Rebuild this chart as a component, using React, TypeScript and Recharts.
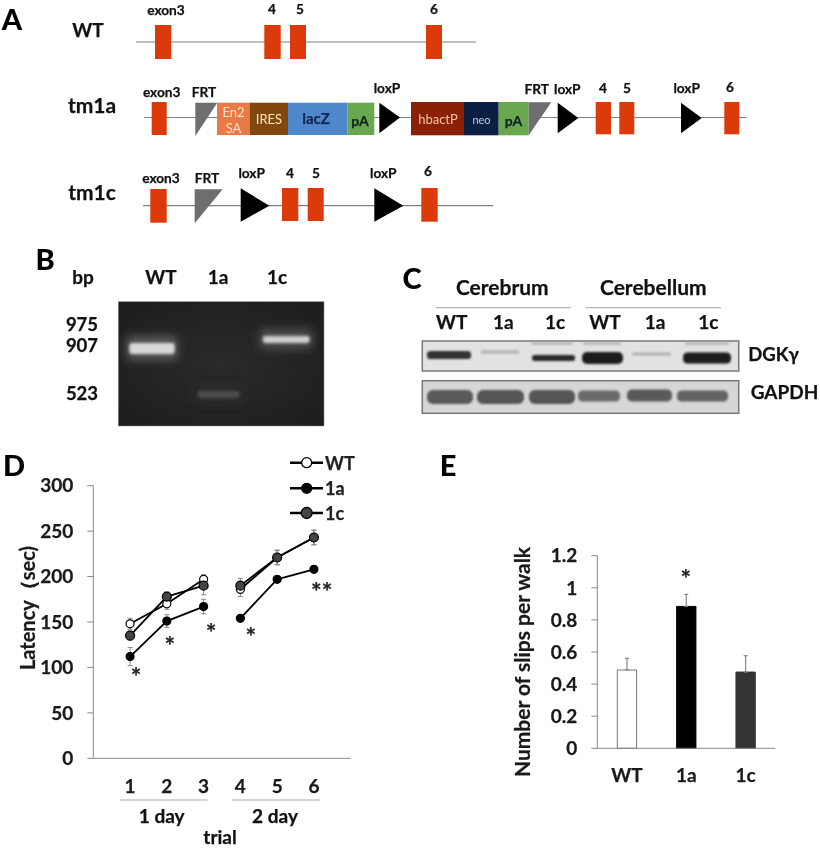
import React from "react";
import { LineChart, Line, BarChart, Bar, Cell, XAxis, YAxis, ErrorBar, Legend } from "recharts";

const FONT = "Lato, sans-serif";

// Panel D
const trialCategories = [" ", "1", "2", "3", "4", "5", "6", "  "];
const latencyTicks = [0, 50, 100, 150, 200, 250, 300];
const wtLatency = [148, 170, 197, 186, 221, 243];
const ko1aLatency = [112, 151, 167, 154, 197, 208];
const ko1cLatency = [135, 178, 190, 190, 221, 243];
const wtError = [6, 6, 5, 8, 8, 8];
const ko1aError = [10, 7, 8, 2, 2, 2];
const ko1cError = [5, 5, 10, 8, 8, 8];
const legendOrder = ["WT", "1a", "1c"];

// Panel E
const slipCategories = ["WT", "1a", "1c"];
const slipValues = [0.488, 0.884, 0.475];
const slipErrors = [0.073, 0.075, 0.102];
const slipTicks = [0, 0.2, 0.4, 0.6, 0.8, 1, 1.2];
const slipFill = ["#ffffff", "#000000", "#333333"];
const slipStroke = ["#777777", "#000000", "#333333"];

const dayOf = (i: number) => (i < 3 ? 1 : 2);
const cell = (arr: number[], i: number, day: number) => {
  const idx = i - 1;
  if (idx < 0 || idx >= arr.length || dayOf(idx) !== day) return null;
  return arr[idx];
};
const latencyTable = trialCategories.map((trial, i) => ({
  trial,
  wt1: cell(wtLatency, i, 1), wt2: cell(wtLatency, i, 2),
  wtE1: cell(wtError, i, 1), wtE2: cell(wtError, i, 2),
  a1: cell(ko1aLatency, i, 1), a2: cell(ko1aLatency, i, 2),
  aE1: cell(ko1aError, i, 1), aE2: cell(ko1aError, i, 2),
  c1: cell(ko1cLatency, i, 1), c2: cell(ko1cLatency, i, 2),
  cE1: cell(ko1cError, i, 1), cE2: cell(ko1cError, i, 2),
}));
const slipTable = slipCategories.map((name, i) => ({
  name, value: slipValues[i], err: [0, slipErrors[i]],
}));

const seriesStyle: Record<string, { fill: string; r: number }> = {
  WT: { fill: "#ffffff", r: 4 },
  "1a": { fill: "#000000", r: 4 },
  "1c": { fill: "#444444", r: 4.5 },
};

const T = ({ x, y, s = 13.7, c = "#111", a = "middle", w = 700, children }: any) => (
  <text x={x} y={y} fontSize={s} fill={c} textAnchor={a} dominantBaseline="central" fontFamily={FONT} fontWeight={w} stroke={w === 700 ? c : "none"} strokeWidth={w === 700 ? 0.25 : 0}>
    {children}
  </text>
);
const Exon = ({ x0, x1, y0, y1 }: any) => <rect x={x0} y={y0} width={x1 - x0} height={y1 - y0} fill="#dc3a0a" />;
const Box = ({ x0, x1, y0, y1, f }: any) => <rect x={x0} y={y0} width={x1 - x0} height={y1 - y0} fill={f} />;
const Tri = ({ p, f = "#000" }: any) => <polygon points={p} fill={f} />;
const Seg = ({ x1, x2, y, c = "#808080", w = 1.2 }: any) => <line x1={x1} x2={x2} y1={y} y2={y} stroke={c} strokeWidth={w} />;

const GelBand = ({ x0, x1, y0, y1, halo, core }: any) => (
  <g>
    <rect x={x0 - 2} y={y0 - 4} width={x1 - x0 + 4} height={y1 - y0 + 8} rx={4} fill={halo} filter="url(#b5)" />
    <rect x={x0 + 1} y={y0 + 3} width={x1 - x0 - 2} height={y1 - y0 - 5} rx={3} fill={core} filter="url(#b2)" />
  </g>
);
const Blot = ({ x0, x1, cy, h, c }: any) => (
  <rect x={x0 + 1} y={cy - h / 2} width={x1 - x0 - 2} height={h} rx={h / 2.4} fill={c} filter="url(#b1)" />
);

function LegendBox(props: any) {
  const names = new Set((props.payload || []).map((p: any) => p.value));
  const rows = legendOrder.filter((n) => names.has(n));
  return (
    <svg width={84} height={80} style={{ display: "block" }}>
      {rows.map((name: string, i: number) => {
        const y = 12.7 + [0, 25.6, 50.3][i];
        const st = seriesStyle[name];
        return (
          <g key={name}>
            <line x1={2} x2={35} y1={y} y2={y} stroke="#000" strokeWidth={2.4} />
            <circle cx={18.7} cy={y} r={st.r + 1} fill={st.fill} stroke="#000" strokeWidth={1.3} />
            <text x={37} y={y} fontSize={18} fontWeight={700} fontFamily={FONT} dominantBaseline="central" fill="#222" stroke="#222" strokeWidth={0.25}>{name}</text>
          </g>
        );
      })}
    </svg>
  );
}

const dotOf = (name: string) => ({
  r: seriesStyle[name].r, fill: seriesStyle[name].fill, stroke: "#000", strokeWidth: 1.2,
});

const LatLine = (name: string, key: string, err: string, legend: boolean) => (
  <Line
    key={key}
    type="linear"
    dataKey={key}
    name={name}
    stroke="#000"
    strokeWidth={1.8}
    dot={dotOf(name)}
    activeDot={false}
    connectNulls={false}
    isAnimationActive={false}
    legendType={legend ? "line" : "none"}
  >
    <ErrorBar dataKey={err} width={2.5} strokeWidth={1} stroke="#888" direction="y" isAnimationActive={false} />
  </Line>
);

export default function App() {
  const tickStyle = { fontSize: 19, fontWeight: 700, fontFamily: FONT, fill: "#1a1a1a", stroke: "#1a1a1a", strokeWidth: 0.25 };
  return (
    <div style={{ position: "absolute", left: 0, top: 0, width: 820, height: 848, background: "#fff", overflow: "hidden", filter: "blur(0.35px)" }}>
      <svg width={820} height={848} style={{ position: "absolute", left: 0, top: 0 }}>
        <defs>
          <filter id="b5" x="-30%" y="-150%" width="160%" height="400%"><feGaussianBlur stdDeviation="5" /></filter>
          <filter id="b2" x="-20%" y="-100%" width="140%" height="300%"><feGaussianBlur stdDeviation="1.8" /></filter>
          <filter id="b1" x="-20%" y="-150%" width="140%" height="400%"><feGaussianBlur stdDeviation="1.3" /></filter>
          <radialGradient id="gel" cx="50%" cy="50%" r="70%">
            <stop offset="0%" stopColor="#2a2a2a" />
            <stop offset="100%" stopColor="#1d1d1d" />
          </radialGradient>
        </defs>

        {/* Panel letters */}
        <T x={12} y={18} s={29} c="#000" w={900}>A</T>
        <T x={45} y={258} s={29} c="#000" w={900}>B</T>
        <T x={412} y={277} s={29} c="#000" w={900}>C</T>
        <T x={14} y={464} s={29} c="#000" w={900}>D</T>
        <T x={448} y={464} s={29} c="#000" w={900}>E</T>

        {/* A: WT */}
        <T x={88} y={29} s={19}>WT</T>
        <Seg x1={136} x2={476} y={42} />
        <Exon x0={155} x1={171.3} y0={25} y1={59} />
        <Exon x0={264.3} x1={280.7} y0={25} y1={59} />
        <Exon x0={290} x1={306} y0={25} y1={59} />
        <Exon x0={426} x1={442} y0={25} y1={59} />
        <T x={166} y={9}>exon3</T><T x={272} y={8}>4</T><T x={300} y={8}>5</T><T x={434} y={8}>6</T>

        {/* A: tm1a */}
        <T x={92} y={104} s={21}>tm1a</T>
        <Seg x1={144} x2={746.7} y={117.5} />
        <Exon x0={151.7} x1={166.7} y0={102} y1={135} />
        <Tri p="195.3,102.7 217.3,102.7 195.3,136" f="#6e6e6e" />
        <Box x0={217} x1={250} y0={102.7} y1={135} f="#e97a48" />
        <Box x0={250} x1={288} y0={102.7} y1={135} f="#80470f" />
        <Box x0={288} x1={347.3} y0={102.7} y1={135} f="#4f88ca" />
        <Box x0={347.3} x1={374.3} y0={102.7} y1={135} f="#6aa84f" />
        <Tri p="379.3,102.7 400,117.5 379.3,133.3" />
        <Box x0={411} x1={464} y0={102} y1={135.3} f="#8a2005" />
        <Box x0={464} x1={498.7} y0={102} y1={135.3} f="#0b1f45" />
        <Box x0={498.7} x1={528.7} y0={102} y1={135.3} f="#6aa84f" />
        <Tri p="528.7,135.3 528.7,102.3 551.3,102.3" f="#6e6e6e" />
        <Tri p="557.7,102.7 578.3,118 557.7,133.3" />
        <Exon x0={595.7} x1={611} y0={102} y1={134.3} />
        <Exon x0={619.3} x1={634.3} y0={102} y1={134.3} />
        <Tri p="681,102.7 701.7,118 681,133.3" />
        <Exon x0={724.3} x1={739.3} y0={102} y1={134.3} />
        <T x={233.5} y={111.5} s={13} c="#fde2c8" w={400}>En2</T>
        <T x={233.5} y={127.5} s={13} c="#fde2c8" w={400}>SA</T>
        <T x={269} y={119} s={13} c="#ffe9b8" w={400}>IRES</T>
        <T x={316} y={118} s={15} c="#14285a">lacZ</T>
        <T x={360} y={120} s={14} c="#122">pA</T>
        <T x={438} y={119} s={13} c="#f3c4a4" w={400}>hbactP</T>
        <T x={481.5} y={119.5} s={11} c="#c4ccdc" w={400}>neo</T>
        <T x={513.5} y={120} s={14} c="#122">pA</T>
        <T x={161.7} y={91}>exon3</T><T x={204} y={91}>FRT</T><T x={387} y={87}>loxP</T>
        <T x={536.7} y={88}>FRT</T><T x={567.3} y={88}>loxP</T><T x={603} y={87}>4</T><T x={627} y={87}>5</T>
        <T x={686.7} y={87}>loxP</T><T x={730} y={86}>6</T>

        {/* A: tm1c */}
        <T x={92} y={191} s={21}>tm1c</T>
        <Seg x1={143} x2={493.3} y={205.7} />
        <Exon x0={150.3} x1={166.7} y0={189} y1={222.7} />
        <Tri p="194.7,189.3 222.7,189.3 194.7,223.3" f="#6e6e6e" />
        <Tri p="240.7,188.3 269.3,205.7 240.7,221.7" />
        <Exon x0={282} x1={298.3} y0={188} y1={221} />
        <Exon x0={307.7} x1={323.7} y0={188} y1={221} />
        <Tri p="374.3,188.3 403.3,205.7 374.3,221.7" />
        <Exon x0={421.3} x1={437.7} y0={188} y1={221.7} />
        <T x={161} y={177}>exon3</T><T x={207} y={177}>FRT</T><T x={251.7} y={172}>loxP</T>
        <T x={290} y={172}>4</T><T x={316} y={172}>5</T><T x={383.3} y={172}>loxP</T><T x={428} y={170}>6</T>

        {/* B */}
        <T x={83} y={276} s={19}>bp</T><T x={161} y={276} s={19}>WT</T><T x={218} y={276} s={19}>1a</T><T x={277} y={276} s={19}>1c</T>
        <T x={82} y={324} s={18.5}>975</T><T x={82} y={344.5} s={18.5}>907</T><T x={82} y={393} s={18.5}>523</T>
        <rect x={118.3} y={301.7} width={205.7} height={124.3} fill="url(#gel)" stroke="#888" strokeWidth={0.5} />
        <GelBand x0={128.3} x1={175.7} y0={340} y1={356} halo="#5a5a5a" core="#d8d8d8" />
        <GelBand x0={196.7} x1={240.7} y0={388} y1={400} halo="#2c2c2c" core="#4c4c4c" />
        <GelBand x0={261.7} x1={310.7} y0={333} y1={345} halo="#505050" core="#cfcfcf" />

        {/* C */}
        <T x={502.3} y={286} s={21}>Cerebrum</T><T x={653.3} y={286} s={21}>Cerebellum</T>
        <Seg x1={435.7} x2={570.7} y={307.7} c="#b5b5b5" />
        <Seg x1={585.7} x2={721} y={307.7} c="#b5b5b5" />
        <T x={451.7} y={321.7} s={19}>WT</T><T x={503.3} y={321.7} s={19}>1a</T><T x={555} y={321.7} s={19}>1c</T>
        <T x={605} y={321.7} s={19}>WT</T><T x={655} y={321.7} s={19}>1a</T><T x={708.3} y={321.7} s={19}>1c</T>
        <rect x={422.3} y={341} width={316.4} height={30} fill="#e2e2e2" stroke="#777" strokeWidth={1.5} />
        <Blot x0={426} x1={472} cy={355} h={8} c="#333" />
        <Blot x0={480} x1={520} cy={352} h={3} c="#b0b0b0" />
        <Blot x0={531} x1={576} cy={358} h={6} c="#2a2a2a" />
        <Blot x0={581} x1={624} cy={358} h={12} c="#1d1d1d" />
        <Blot x0={631} x1={672} cy={354} h={3} c="#b0b0b0" />
        <Blot x0={682} x1={732} cy={358} h={11} c="#1d1d1d" />
        <Blot x0={530} x1={574} cy={343.5} h={2} c="#a8a8a8" />
        <Blot x0={582} x1={622} cy={343.5} h={2} c="#a8a8a8" />
        <Blot x0={684} x1={730} cy={343.5} h={2} c="#a8a8a8" />
        <rect x={422.3} y={380.7} width={316.4} height={32.6} fill="#d6d6d6" stroke="#777" strokeWidth={1.5} />
        <Blot x0={426} x1={474} cy={397} h={14} c="#5a5a5a" />
        <Blot x0={476} x1={525} cy={397} h={14} c="#545454" />
        <Blot x0={528} x1={576} cy={397} h={14} c="#545454" />
        <Blot x0={577} x1={621} cy={396} h={11} c="#6a6a6a" />
        <Blot x0={626} x1={673} cy={395.5} h={12} c="#5a5a5a" />
        <Blot x0={676} x1={729} cy={396} h={11} c="#636363" />
        <T x={748.3} y={354} s={18.5} a="start">DGKγ</T>
        <T x={750.7} y={391.7} s={19} a="start">GAPDH</T>
      </svg>

      {/* D */}
      <div style={{ position: "absolute", left: 0, top: 440 }}>
        <LineChart width={400} height={408} data={latencyTable} margin={{ top: 45.7, right: 49.3, left: 0, bottom: 0 }}>
          <XAxis
            dataKey="trial"
            scale="point"
            interval={0}
            height={89.7}
            tickLine={false}
            tickMargin={15}
            axisLine={{ stroke: "#888", strokeWidth: 1 }}
            tick={tickStyle}
          />
          <YAxis
            width={93.3}
            domain={[0, 300]}
            ticks={latencyTicks}
            tickLine={{ stroke: "#888" }}
            tickSize={6}
            tickMargin={14}
            axisLine={{ stroke: "#888", strokeWidth: 1 }}
            tick={tickStyle}
            label={{ value: "Latency（sec)", angle: -90, position: "insideLeft", dx: 23, dy: -14, style: { ...tickStyle, fontSize: 20, textAnchor: "middle" } }}
          />
          <Legend
            layout="vertical"
            align="center"
            verticalAlign="middle"
            content={<LegendBox />}
            wrapperStyle={{ position: "absolute", left: 288, top: 10, width: 84, height: 80 }}
          />
          {LatLine("WT", "wt1", "wtE1", true)}
          {LatLine("WT", "wt2", "wtE2", false)}
          {LatLine("1a", "a1", "aE1", true)}
          {LatLine("1a", "a2", "aE2", false)}
          {LatLine("1c", "c1", "cE1", true)}
          {LatLine("1c", "c2", "cE2", false)}
        </LineChart>
      </div>

      {/* E */}
      <div style={{ position: "absolute", left: 430, top: 440 }}>
        <BarChart width={390} height={408} data={slipTable} margin={{ top: 115.7, right: 44.7, left: 0, bottom: 0 }} barCategoryGap={0}>
          <XAxis
            dataKey="name"
            interval={0}
            height={99.7}
            tickLine={false}
            tickMargin={14}
            axisLine={{ stroke: "#888", strokeWidth: 1 }}
            tick={tickStyle}
          />
          <YAxis
            width={167.3}
            domain={[0, 1.2]}
            ticks={slipTicks}
            tickFormatter={(v: number) => String(v)}
            tickLine={{ stroke: "#888" }}
            tickSize={6}
            tickMargin={14}
            axisLine={{ stroke: "#888", strokeWidth: 1 }}
            tick={tickStyle}
            label={{ value: "Number of slips per walk", angle: -90, position: "insideLeft", dx: 88, dy: 10, style: { ...tickStyle, fontSize: 21, textAnchor: "middle" } }}
          />
          <Bar dataKey="value" barSize={19.3} isAnimationActive={false} strokeWidth={1}>
            {slipTable.map((_, i) => (
              <Cell key={i} fill={slipFill[i]} stroke={slipStroke[i]} />
            ))}
            <ErrorBar dataKey="err" width={2} strokeWidth={1.2} stroke="#888" direction="y" isAnimationActive={false} />
          </Bar>
        </BarChart>
      </div>

      {/* Significance marks and grouping labels */}
      <svg width={820} height={848} style={{ position: "absolute", left: 0, top: 0, pointerEvents: "none" }}>
        <T x={136} y={676} s={25} c="#222">*</T>
        <T x={169.7} y={645} s={25} c="#222">*</T>
        <T x={211} y={632} s={25} c="#222">*</T>
        <T x={250.7} y={636} s={25} c="#222">*</T>
        <T x={321.7} y={591} s={25} c="#222">**</T>
        <T x={685.7} y={578} s={25} c="#222">*</T>
        <Seg x1={120} x2={207.7} y={800} c="#aaaaaa" />
        <Seg x1={232} x2={320} y={800} c="#aaaaaa" />
        <T x={161.7} y={815.7} s={19}>1 day</T>
        <T x={275} y={815.7} s={19}>2 day</T>
        <T x={220} y={836.3} s={19}>trial</T>
      </svg>
    </div>
  );
}
